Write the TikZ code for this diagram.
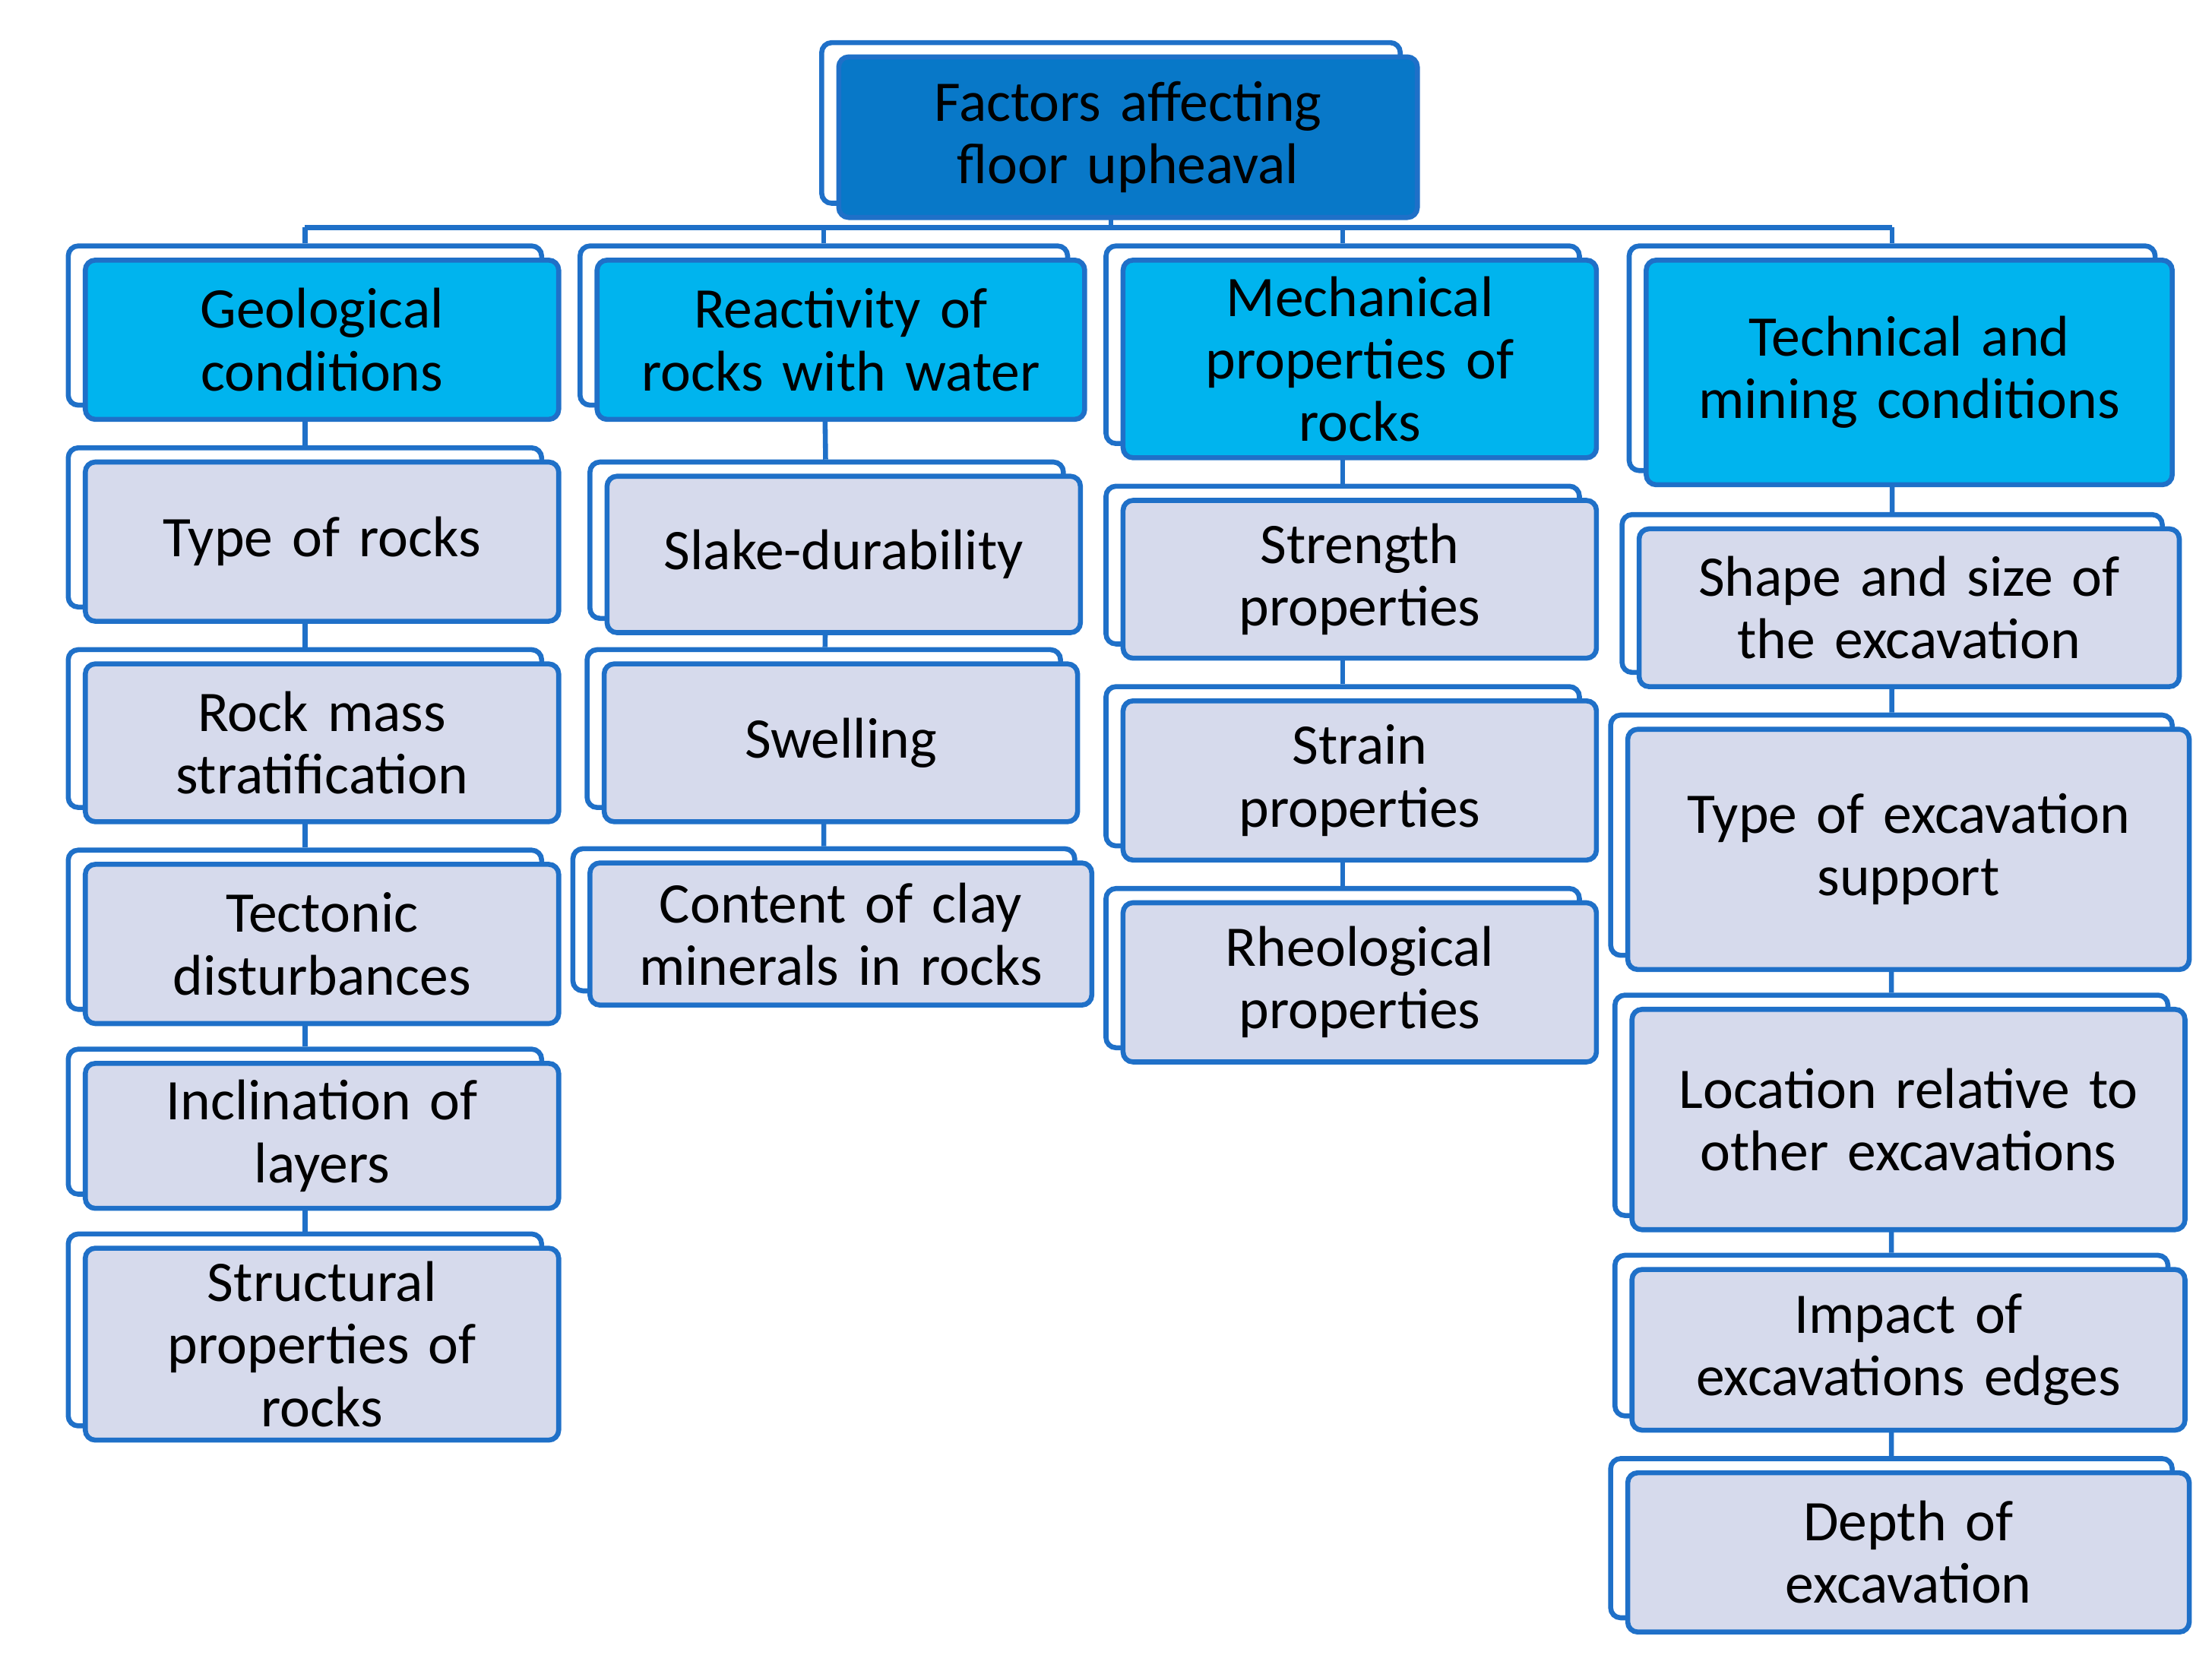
\documentclass[tikz,border=0pt]{standalone}
\usepackage{fontspec}
\setmainfont{Carlito}
\usetikzlibrary{backgrounds}

\definecolor{edgeblue}{HTML}{1F70C8}
\definecolor{rootfill}{HTML}{0878C8}
\definecolor{headfill}{HTML}{00B4EE}
\definecolor{itemfill}{HTML}{D6DAEC}

\tikzset{
  frame/.style={draw=edgeblue, line width=2pt, rounded corners=4pt, inner sep=0pt, align=center},
  back/.style={frame, fill=white},
  root/.style={frame, fill=rootfill},
  head/.style={frame, fill=headfill},
  item/.style={frame, fill=itemfill},
  link/.style={draw=edgeblue, line width=2pt}
}

% box: name, x1, y1, x2, y2, style, text
\newcommand\tbox[7]{%
  \pgfmathsetmacro\bw{(#4-#2)*0.02}%
  \pgfmathsetmacro\bh{(#5-#3)*0.02}%
  \node[back, minimum width=\bw cm, minimum height=\bh cm] (#1b) at ({(#2+#4)/2-12},{(#3+#5)/2-10}) {};
  \node[#6, minimum width=\bw cm, minimum height=\bh cm, text width=\bw cm-8pt] (#1) at ({(#2+#4)/2},{(#3+#5)/2}) {#7};
}

\begin{document}
\begin{tikzpicture}[x=0.02cm, y=-0.02cm, font=\fontsize{23}{25}\selectfont]
\useasboundingbox (0,0) rectangle (1556,1175);

% top
\tbox{root}{590}{40}{997}{153}{root}{Factors affecting\\floor upheaval}

% headers
\tbox{geo}{60}{183}{393}{295}{head}{Geological\\conditions}
\tbox{rea}{420}{183}{763}{295}{head}{Reactivity of\\rocks with water}
\tbox{mec}{790}{183}{1123}{322}{head}{Mechanical\\properties of\\rocks}
\tbox{tec}{1158}{183}{1528}{341}{head}{Technical and\\mining conditions}

% geological
\tbox{geoA}{60}{325}{393}{437}{item}{Type of rocks}
\tbox{geoB}{60}{467}{393}{578}{item}{Rock mass\\stratification}
\tbox{geoC}{60}{608}{393}{720}{item}{Tectonic\\disturbances}
\tbox{geoD}{60}{748}{393}{850}{item}{Inclination of\\layers}
\tbox{geoE}{60}{878}{393}{1013}{item}{Structural\\properties of\\rocks}

% reactivity
\tbox{reaA}{427}{335}{760}{445}{item}{Slake-durability}
\tbox{reaB}{425}{467}{758}{578}{item}{Swelling}
\tbox{reaC}{415}{607}{768}{707}{item}{Content of clay\\minerals in rocks}

% mechanical
\tbox{mecA}{790}{352}{1123}{463}{item}{Strength\\properties}
\tbox{mecB}{790}{493}{1123}{605}{item}{Strain\\properties}
\tbox{mecC}{790}{635}{1123}{747}{item}{Rheological\\properties}

% technical
\tbox{tecA}{1153}{372}{1533}{483}{item}{Shape and size of\\the excavation}
\tbox{tecB}{1145}{513}{1540}{682}{item}{Type of excavation\\support}
\tbox{tecC}{1148}{710}{1537}{865}{item}{Location relative to\\other excavations}
\tbox{tecD}{1148}{893}{1537}{1006}{item}{Impact of\\excavations edges}
\tbox{tecE}{1145}{1036}{1540}{1148}{item}{Depth of\\excavation}

% connectors
\begin{scope}[on background layer]
\coordinate (bus) at (783,160);
\draw[link] (rootb) -- (rootb |- bus);
\draw[link] (geob |- bus) -- (tecb |- bus);
\foreach \h in {geo,rea,mec,tec} \draw[link] (\h b |- bus) -- (\h b);
\draw[link] (geob) -- (geoAb) -- (geoBb) -- (geoCb) -- (geoDb) -- (geoEb);
\draw[link] (reab) -- (reaAb) -- (reaBb) -- (reaCb);
\draw[link] (mecb) -- (mecAb) -- (mecBb) -- (mecCb);
\draw[link] (tecb) -- (tecAb) -- (tecBb) -- (tecCb) -- (tecDb) -- (tecEb);
\end{scope}
\end{tikzpicture}
\end{document}
